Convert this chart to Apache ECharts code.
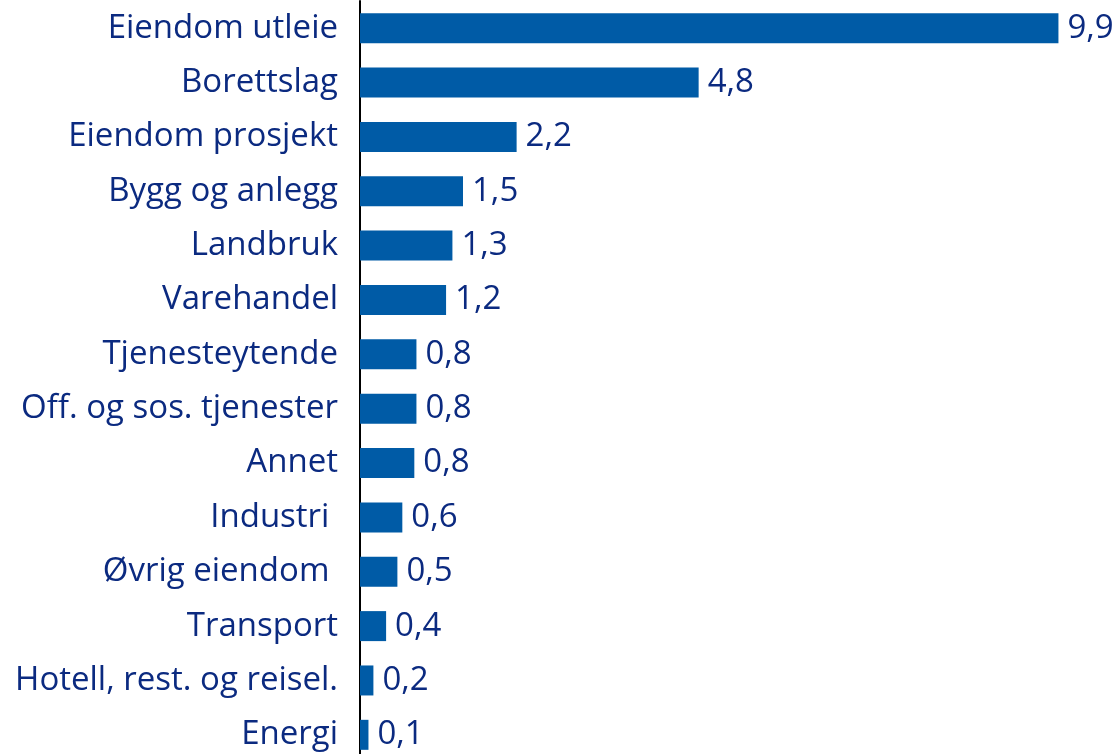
<!DOCTYPE html>
<html>
<head>
<meta charset="utf-8">
<script src="https://cdn.jsdelivr.net/npm/echarts@6/dist/echarts.min.js"></script>
<style>
  html, body { margin: 0; padding: 0; background: #ffffff; }
  #chart { width: 1117px; height: 754px; }
</style>
</head>
<body>
<div id="chart"></div>
<script>
const categories = [
  'Eiendom utleie', 'Borettslag', 'Eiendom prosjekt', 'Bygg og anlegg', 'Landbruk',
  'Varehandel', 'Tjenesteytende', 'Off. og sos. tjenester', 'Annet', 'Industri ',
  'Øvrig eiendom ', 'Transport', 'Hotell, rest. og reisel.', 'Energi'
];
const values = [9.9, 4.8, 2.22, 1.46, 1.31, 1.22, 0.8, 0.8, 0.77, 0.6, 0.53, 0.37, 0.19, 0.12];

const textColor = '#0b2a80';
const barColor = '#005ba6';
const fontFamily = '"Open Sans", sans-serif';

const chart = echarts.init(document.getElementById('chart'), null, { renderer: 'canvas' });
chart.setOption({
  animation: false,
  backgroundColor: '#ffffff',
  grid: { left: 360, top: 1, width: 705.5, height: 761, containLabel: false, outerBoundsMode: 'none' },
  xAxis: {
    type: 'value', min: 0, max: 10, show: false,
    splitLine: { show: false }
  },
  yAxis: {
    type: 'category', data: categories, inverse: true,
    axisLine: { show: true, lineStyle: { color: '#000000', width: 2 } },
    axisTick: { show: false },
    axisLabel: { color: textColor, fontSize: 33, fontFamily: fontFamily, margin: 22 }
  },
  series: [{
    type: 'bar',
    data: values,
    barWidth: 30,
    itemStyle: { color: barColor },
    label: {
      show: true, position: 'right', distance: 9,
      color: textColor, fontSize: 33, fontFamily: fontFamily,
      formatter: p => p.value.toFixed(1).replace('.', ',')
    }
  }]
});
</script>
</body>
</html>
